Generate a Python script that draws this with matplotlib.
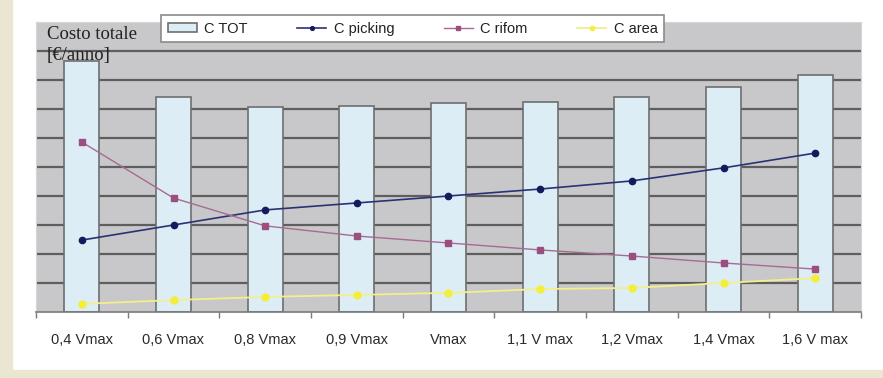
import matplotlib.pyplot as plt
import numpy as np
from matplotlib.patches import Rectangle

categories = ['0,4 Vmax', '0,6 Vmax', '0,8 Vmax', '0,9 Vmax', 'Vmax',
              '1,1 V max', '1,2 Vmax', '1,4 Vmax', '1,6 V max']
c_tot = [8.66, 7.41, 7.07, 7.10, 7.19, 7.24, 7.41, 7.76, 8.17]
c_picking = [2.48, 3.00, 3.52, 3.76, 4.00, 4.24, 4.52, 4.97, 5.48]
c_rifom = [5.86, 3.93, 2.97, 2.62, 2.38, 2.14, 1.93, 1.69, 1.48]
c_area = [0.28, 0.41, 0.52, 0.59, 0.66, 0.79, 0.83, 1.00, 1.17]

W, H = 883, 378
fig = plt.figure(figsize=(W / 100, H / 100), dpi=100)
fig.patch.set_facecolor('white')

# beige frame strips (left and bottom)
beige = '#ebe6d2'
fig.patches.append(Rectangle((0, 0), 12 / W, 1, transform=fig.transFigure,
                             color=beige, zorder=0))
fig.patches.append(Rectangle((0, 0), 1, 8 / H, transform=fig.transFigure,
                             color=beige, zorder=0))

ax = fig.add_axes([36 / W, (H - 312) / H, (861 - 36) / W, (312 - 22) / H])
ax.set_facecolor('#c8c8ca')

x = np.arange(len(categories))
bars = ax.bar(x, c_tot, width=0.38, color='#dcedf5', edgecolor='#6e6e6e',
              linewidth=1.2, zorder=2, label='C TOT')
l1, = ax.plot(x, c_picking, color='#2a3275', lw=1.2, marker='o', ms=4.5,
              mfc='#141a5c', mec='#141a5c', zorder=4, label='C picking')
l2, = ax.plot(x, c_rifom, color='#a86a92', lw=1.0, marker='s', ms=4,
              mfc='#9a4f80', mec='#9a4f80', zorder=4, label='C rifom')
l3, = ax.plot(x, c_area, color='#f3ef8a', lw=1.3, marker='o', ms=5,
              mfc='#f4ee3a', mec='#f4ee3a', zorder=4, label='C area')

ax.set_xlim(-0.5, len(categories) - 0.5)
ax.set_ylim(0, 10)
ax.set_yticks(range(1, 10))
ax.yaxis.grid(True, color='#5e5e5e', linewidth=1.6, zorder=1)
ax.set_axisbelow(True)
ax.tick_params(axis='y', length=0, labelleft=False)

ax.set_xticks(np.arange(-0.5, len(categories)), labels=[])
ax.set_xticks(x, labels=categories, minor=True)
ax.tick_params(axis='x', which='major', length=4, width=1, color='#7a7a7a',
               direction='out')
ax.tick_params(axis='x', which='minor', length=0, pad=15, labelsize=10.5,
               labelcolor='#2a2a2a')
for lab in ax.get_xticklabels(minor=True):
    lab.set_family('Liberation Sans')

for s in ['top', 'left', 'right']:
    ax.spines[s].set_color('#d6d6d6')
ax.spines['bottom'].set_color('#7a7a7a')
ax.spines['bottom'].set_linewidth(1.2)

fig.text(47 / W, 1 - 26 / H, 'Costo totale\n[€/anno]', family='Liberation Serif',
         fontsize=13.5, va='top', ha='left', color='#222222', linespacing=1.3,
         zorder=5)

leg = ax.legend(handles=[bars, l1, l2, l3],
                loc='upper left', bbox_to_anchor=(161 / W, 1 - 15 / H),
                bbox_transform=fig.transFigure, ncol=4, frameon=True,
                fancybox=False, edgecolor='#8a8a8a', framealpha=1,
                prop={'family': 'Liberation Sans', 'size': 10.5},
                handlelength=2.0, handleheight=0.6, handletextpad=0.5,
                columnspacing=3.4, borderpad=0.45, borderaxespad=0,
                markerscale=0.6)
leg.get_frame().set_linewidth(1.2)
for t in leg.get_texts():
    t.set_color('#222222')

fig.savefig('out.png', dpi=100)
